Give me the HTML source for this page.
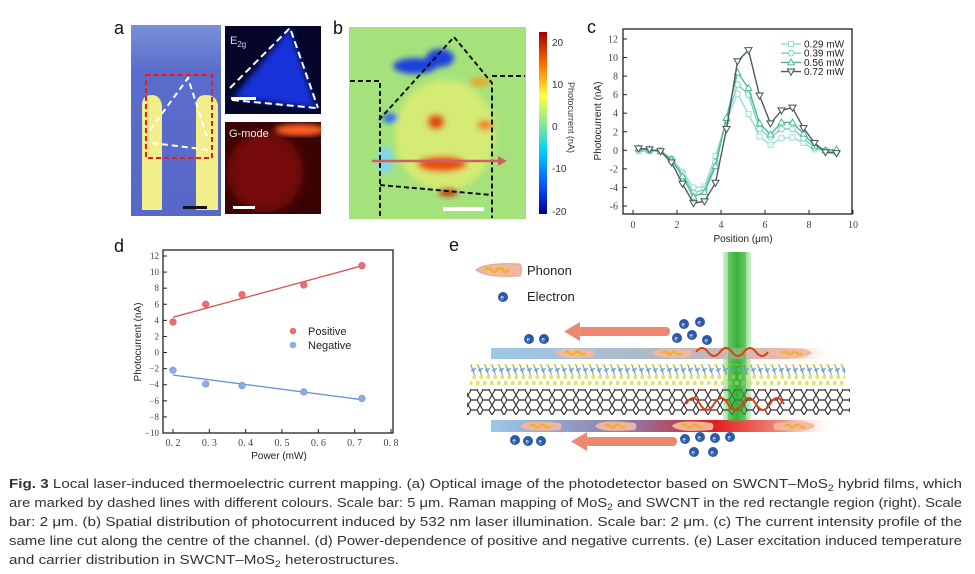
<!DOCTYPE html>
<html><head><meta charset="utf-8">
<style>
html,body{margin:0;padding:0;background:#fff;}
svg{display:block;font-family:"Liberation Sans",sans-serif;}
</style></head>
<body>
<svg id="fig" width="975" height="574" viewBox="0 0 975 574" xmlns="http://www.w3.org/2000/svg">
<defs>
  <filter id="blur3"><feGaussianBlur stdDeviation="3"/></filter>
  <filter id="blur5"><feGaussianBlur stdDeviation="5"/></filter>
  <clipPath id="clipE2g"><rect x="225" y="26" width="96" height="88"/></clipPath>
  <clipPath id="clipG"><rect x="225" y="122" width="96" height="92"/></clipPath>
  <clipPath id="clipB"><rect x="349" y="27" width="177" height="192"/></clipPath>
  <linearGradient id="cbar" x1="0" y1="1" x2="0" y2="0">
    <stop offset="0" stop-color="#00008f"/><stop offset="0.15" stop-color="#0050ff"/>
    <stop offset="0.35" stop-color="#00d0ff"/><stop offset="0.5" stop-color="#90e890"/>
    <stop offset="0.65" stop-color="#ffff40"/><stop offset="0.82" stop-color="#ff7000"/>
    <stop offset="1" stop-color="#a00000"/>
  </linearGradient>
  <linearGradient id="optic" x1="0" y1="0" x2="0" y2="1">
    <stop offset="0" stop-color="#7a90d8"/><stop offset="0.25" stop-color="#5a6ccc"/><stop offset="1" stop-color="#5868c8"/>
  </linearGradient>
  <linearGradient id="topbar" x1="0" x2="1">
    <stop offset="0" stop-color="#9cc8ea"/><stop offset="0.5" stop-color="#b0b8c4"/>
    <stop offset="0.85" stop-color="#e8b8a8"/><stop offset="1" stop-color="#fff" stop-opacity="0"/>
  </linearGradient>
  <linearGradient id="botbar" x1="0" x2="1">
    <stop offset="0" stop-color="#9cc8ea"/><stop offset="0.4" stop-color="#8a7aa8"/>
    <stop offset="0.65" stop-color="#e02020"/><stop offset="0.85" stop-color="#f09080"/>
    <stop offset="1" stop-color="#fff" stop-opacity="0"/>
  </linearGradient>
  <linearGradient id="beam" x1="0" x2="1">
    <stop offset="0" stop-color="#5fcf5f" stop-opacity="0.3"/><stop offset="0.5" stop-color="#2fa82f"/>
    <stop offset="1" stop-color="#5fcf5f" stop-opacity="0.3"/>
  </linearGradient>
  <pattern id="hex" width="12" height="10" patternUnits="userSpaceOnUse">
    <path d="M0 5 L3 0 L9 0 L12 5 L9 10 L3 10 Z" fill="none" stroke="#333" stroke-width="1.2"/>
  </pattern>
  <pattern id="mos2" width="7" height="20" patternUnits="userSpaceOnUse">
    <path d="M1 3 L4 10 L6 17 M4 10 L7 8" stroke="#888" stroke-width="1"/>
    <circle cx="1.5" cy="3" r="2.3" fill="#e0e468"/><circle cx="5.5" cy="17" r="2.3" fill="#e0e468"/>
    <circle cx="4" cy="10" r="1.8" fill="#6ab0e0"/>
  </pattern>
</defs>

<!-- ========== Panel a ========== -->
<g>
  <text x="114" y="34" font-size="18" fill="#111">a</text>
  <g>
    <rect x="131" y="25" width="90" height="191" fill="url(#optic)"/>
    <path d="M142 210 L142 105 Q142 95 152 95 Q160 95 162 105 L162 210 Z" fill="#f2ef8a"/>
    <path d="M196 210 L196 105 Q196 95 206 95 Q216 95 218 105 L218 210 Z" fill="#f2ef8a"/>
    <rect x="146" y="75" width="66" height="83" fill="none" stroke="#e02020" stroke-width="2" stroke-dasharray="5,3"/>
    <path d="M150 130 L188 78 L208 140 M152 143 L210 150" fill="none" stroke="#fff" stroke-width="2" stroke-dasharray="6,4"/>
    <rect x="183" y="206" width="24" height="3" fill="#111"/>
  </g>
  <g>
    <rect x="225" y="26" width="96" height="88" fill="#05062a"/>
    <path d="M233 98 L290 28 L316 108 Z" fill="#1630d8" filter="url(#blur3)" clip-path="url(#clipE2g)"/>
    <path d="M230 88 L290 28 L318 108 M232 100 L316 108" fill="none" stroke="#fff" stroke-width="2" stroke-dasharray="7,4"/>
    <text x="230" y="44" font-size="11" fill="#ddd">E<tspan font-size="8" dy="3">2g</tspan></text>
    <rect x="231" y="97" width="25" height="3" fill="#fff"/>
  </g>
  <g>
    <rect x="225" y="122" width="96" height="92" fill="#3a0404"/>
    <g clip-path="url(#clipG)">
      <ellipse cx="265" cy="172" rx="38" ry="40" fill="#901008" opacity="0.7" filter="url(#blur5)"/>
      <ellipse cx="300" cy="130" rx="25" ry="6" fill="#ff6020" filter="url(#blur3)"/>
    </g>
    <text x="229" y="137" font-size="11" fill="#eee">G-mode</text>
    <rect x="233" y="206" width="22" height="3" fill="#fff"/>
  </g>
</g>

<!-- ========== Panel b ========== -->
<g>
  <text x="333" y="34" font-size="18" fill="#111">b</text>
  <g>
    <rect x="349" y="27" width="177" height="192" fill="#a6e27c"/>
    <g filter="url(#blur3)" clip-path="url(#clipB)">
      <ellipse cx="445" cy="135" rx="50" ry="55" fill="#e4ee70" opacity="0.75"/>
      <ellipse cx="415" cy="66" rx="22" ry="8" fill="#1a40e0"/>
      <ellipse cx="440" cy="58" rx="14" ry="9" fill="#1a40e0"/>
      <ellipse cx="390" cy="118" rx="8" ry="5" fill="#3070e8"/>
      <ellipse cx="385" cy="160" rx="8" ry="14" fill="#80d8e8"/>
      <ellipse cx="436" cy="122" rx="9" ry="8" fill="#e05010"/>
      <ellipse cx="442" cy="164" rx="25" ry="8" fill="#e85010"/>
      <ellipse cx="448" cy="192" rx="10" ry="4" fill="#c02000"/>
      <ellipse cx="485" cy="125" rx="8" ry="5" fill="#f08020"/>
      <ellipse cx="480" cy="82" rx="10" ry="4" fill="#f0a020"/>
    </g>
    <path d="M350 81 L380 81 L380 218 M379 120 L454 37 L492 83 L492 218 M492 76 L525 76 M380 185 L492 195" fill="none" stroke="#111" stroke-width="2" stroke-dasharray="5,3"/>
    <line x1="372" y1="161" x2="500" y2="161" stroke="#d06060" stroke-width="2.5"/>
    <polygon points="498,156 507,161 498,166" fill="#d06060"/>
    <rect x="443" y="207" width="41" height="4" fill="#fff"/>
  </g>
  <g>
    <rect x="539" y="32" width="8" height="182" fill="url(#cbar)"/>
    <g font-size="10" fill="#333">
      <text x="552" y="46">20</text><text x="552" y="88">10</text>
      <text x="552" y="130">0</text><text x="552" y="172">-10</text><text x="552" y="215">-20</text>
    </g>
    <text transform="translate(568,82) rotate(90)" font-size="9" fill="#333">Photocurrent (nA)</text>
  </g>
</g>

<!-- ========== Panel c ========== -->
<g id="panelC">
  <text x="587" y="33" font-size="18" fill="#111">c</text>
</g>

<!-- ========== Panel d ========== -->
<g id="panelD">
  <text x="114" y="252" font-size="18" fill="#111">d</text>
</g>

<!-- ========== Panel e ========== -->
<g>
  <text x="449" y="251" font-size="18" fill="#111">e</text>
  <g>
    <path d="M476 270 Q486 262 520 264 Q523 270 520 276 Q486 278 476 270 Z" fill="#f0b8a0" stroke="#e6a088"/>
    <path d="M485 270 q3 -4 6 0 t6 0 t6 0 t6 0" fill="none" stroke="#f0b020" stroke-width="2.5"/>
    <text x="527" y="275" font-size="13" fill="#222">Phonon</text>
  </g>
  <g>
    <circle cx="503" cy="297" r="5" fill="#2a5aa8"/><text x="500.5" y="299.5" font-size="6" fill="#fff">e</text>
    <text x="527" y="301" font-size="13" fill="#222">Electron</text>
  </g>
  <rect x="723" y="252" width="28" height="170" fill="url(#beam)"/>
  <rect x="491" y="348" width="345" height="11" fill="url(#topbar)"/>
  <rect x="470" y="364" width="375" height="21" fill="url(#mos2)"/>
  <rect x="467" y="389" width="383" height="26" fill="url(#hex)"/>
  <rect x="491" y="420" width="345" height="12" fill="url(#botbar)"/>
  <rect x="728" y="252" width="18" height="170" fill="#3cb83c" opacity="0.55"/>
  <g fill="#f0b8a0" opacity="0.95">
    <path d="M555 353 Q560 346 593 350 Q596 353 593 357 Q560 360 555 353 Z"/>
    <path d="M652 353 Q657 346 690 350 Q693 353 690 357 Q657 360 652 353 Z"/>
    <path d="M812 353 Q807 346 774 350 Q771 353 774 357 Q807 360 812 353 Z"/>
    <path d="M520 426 Q525 419 560 423 Q563 426 560 430 Q525 433 520 426 Z"/>
    <path d="M595 426 Q600 419 635 423 Q638 426 635 430 Q600 433 595 426 Z"/>
    <path d="M672 426 Q677 419 712 423 Q715 426 712 430 Q677 433 672 426 Z"/>
    <path d="M815 426 Q810 419 775 423 Q772 426 775 430 Q810 433 815 426 Z"/>
  </g>
  <g fill="none" stroke="#f0b020" stroke-width="2">
    <path d="M565 353 q2.5 -3 5 0 t5 0 t5 0 t5 0"/><path d="M662 353 q2.5 -3 5 0 t5 0 t5 0 t5 0"/>
    <path d="M782 353 q2.5 -3 5 0 t5 0 t5 0 t5 0"/><path d="M530 426 q2.5 -3 5 0 t5 0 t5 0 t5 0"/>
    <path d="M605 426 q2.5 -3 5 0 t5 0 t5 0 t5 0"/><path d="M682 426 q2.5 -3 5 0 t5 0 t5 0 t5 0"/>
    <path d="M785 426 q2.5 -3 5 0 t5 0 t5 0 t5 0"/>
  </g>
  <path d="M696 352 q6 -8 12 0 t12 0 t12 0 t12 0 t12 0 t12 0" fill="none" stroke="#e04010" stroke-width="2"/>
  <path d="M686 404 q7 -12 14 0 t14 0 t14 0 t14 0 t14 0 t14 0 t14 0" fill="none" stroke="#e04010" stroke-width="2"/>
  <g fill="#ec8870">
    <rect x="578" y="327" width="92" height="9" rx="4"/><polygon points="580,322 564,331.5 580,341"/>
    <rect x="585" y="437" width="92" height="9" rx="4"/><polygon points="587,432 571,441.5 587,451"/>
  </g>
  <g id="electrons"></g>
</g>

<!-- ========== Caption ========== -->
<g font-size="13" fill="#333">
  <text x="9" y="488" textLength="953" lengthAdjust="spacingAndGlyphs"><tspan font-weight="bold">Fig. 3</tspan>   Local laser-induced thermoelectric current mapping. (a) Optical image of the photodetector based on SWCNT–MoS<tspan font-size="9" dy="3">2</tspan><tspan dy="-3"> hybrid films, which</tspan></text>
  <text x="9" y="507" textLength="953" lengthAdjust="spacingAndGlyphs">are marked by dashed lines with different colours. Scale bar: 5 μm. Raman mapping of MoS<tspan font-size="9" dy="3">2</tspan><tspan dy="-3"> and SWCNT in the red rectangle region (right). Scale</tspan></text>
  <text x="9" y="526" textLength="953" lengthAdjust="spacingAndGlyphs">bar: 2 μm. (b) Spatial distribution of photocurrent induced by 532 nm laser illumination. Scale bar: 2 μm. (c) The current intensity profile of the</text>
  <text x="9" y="545" textLength="953" lengthAdjust="spacingAndGlyphs">same line cut along the centre of the channel. (d) Power-dependence of positive and negative currents. (e) Laser excitation induced temperature</text>
  <text x="9" y="564" textLength="390" lengthAdjust="spacingAndGlyphs">and carrier distribution in SWCNT–MoS<tspan font-size="9" dy="3">2</tspan><tspan dy="-3"> heterostructures.</tspan></text>
</g>
</svg>

<script>
// ---------- Panel C data ----------
const cPositions = [0.25,0.75,1.25,1.75,2.25,2.75,3.25,3.75,4.25,4.75,5.25,5.75,6.25,6.75,7.25,7.75,8.25,8.75,9.25];
const cSeriesNames = ["0.29 mW","0.39 mW","0.56 mW","0.72 mW"];
const cVals029 = [-0.1,-0.1,0,-0.9,-2.3,-4.0,-3.9,-0.6,3.2,6.1,3.9,1.5,0.6,1.3,1.4,0.8,0.1,0,-0.2];
const cVals039 = [0.1,0,-0.1,-1.0,-2.5,-4.6,-4.2,-1.3,3.3,7.1,6.0,2.3,1.4,2.3,2.3,1.3,0.3,0,-0.1];
const cVals056 = [0.2,0.1,-0.1,-1.0,-2.8,-5.0,-4.5,-1.7,3.5,8.4,6.7,2.9,1.7,3.0,3.0,1.8,0.5,0,0.1];
const cVals072 = [0.2,0.1,-0.1,-1.3,-3.6,-5.7,-5.5,-3.5,2.3,9.6,10.8,5.9,2.9,4.3,4.6,2.4,0.8,-0.2,-0.3];
const cXTicks = [0,2,4,6,8,10];
const cYTicks = [-6,-4,-2,0,2,4,6,8,10,12];

// ---------- Panel D data ----------
const dPowers = [0.2,0.29,0.39,0.56,0.72];
const dPositive = [3.8,6.0,7.2,8.4,10.8];
const dNegative = [-2.2,-3.9,-4.1,-4.9,-5.7];
const dXTicks = [0.2,0.3,0.4,0.5,0.6,0.7,0.8];
const dYTicks = [-10,-8,-6,-4,-2,0,2,4,6,8,10,12];

const NS = "http://www.w3.org/2000/svg";
function mk(tag, attrs, parent){
  const e = document.createElementNS(NS, tag);
  for (const k in attrs) e.setAttribute(k, attrs[k]);
  parent.appendChild(e); return e;
}

// ===== Panel C =====
(function(){
  const g = document.getElementById('panelC');
  const X = v => 633 + v*(853-633)/10;
  const Y = v => 206 - (v+6)*(206-39)/18;
  const box = mk('rect',{x:623,y:29,width:229,height:185,fill:'none',stroke:'#222','stroke-width':1.3},g);
  
  
  cXTicks.forEach(t=>{
    mk('line',{x1:X(t),y1:214,x2:X(t),y2:210,stroke:'#222'},g);
    const tx = mk('text',{x:X(t),y:228,'font-size':10,'text-anchor':'middle',fill:'#444','font-family':'Liberation Serif, serif'},g);
    tx.textContent = t;
    
    
  });
  cYTicks.forEach(t=>{
    mk('line',{x1:623,y1:Y(t),x2:627,y2:Y(t),stroke:'#222'},g);
    const tx = mk('text',{x:618,y:Y(t)+3.5,'font-size':10,'text-anchor':'end',fill:'#444','font-family':'Liberation Serif, serif'},g);
    tx.textContent = t;
    
    
  });
  const xt = mk('text',{x:743,y:242,'font-size':10,'text-anchor':'middle',fill:'#222'},g);
  xt.textContent = 'Position (μm)';
  
  
  const yt = mk('text',{transform:'translate(601,121) rotate(-90)','font-size':10,'text-anchor':'middle',fill:'#222'},g);
  yt.textContent = 'Photocurrent (nA)';
  
  

  const series = [cVals029,cVals039,cVals056,cVals072];
  const colors = ['#9adcd8','#78d4bc','#4cb898','#4e5c5e'];
  const markers = ['sq','ci','tu','td'];
  function marker(type,x,y,col,parent){
    let m;
    if(type==='sq') m = mk('rect',{x:x-2.5,y:y-2.5,width:5,height:5,fill:'#fff',stroke:col,'stroke-width':1},parent);
    else if(type==='ci') m = mk('circle',{cx:x,cy:y,r:2.8,fill:'#fff',stroke:col,'stroke-width':1},parent);
    else if(type==='tu') m = mk('polygon',{points:`${x},${y-3.5} ${x-3.3},${y+2.5} ${x+3.3},${y+2.5}`,fill:'#fff',stroke:col,'stroke-width':1},parent);
    else m = mk('polygon',{points:`${x},${y+3.5} ${x-3.5},${y-2.5} ${x+3.5},${y-2.5}`,fill:'#fff',stroke:col,'stroke-width':1.1},parent);
    return m;
  }
  series.forEach((vals,si)=>{
    const sg = mk('g',{},g);
    
    
    const pts = vals.map((v,i)=>X(cPositions[i])+','+Y(v)).join(' ');
    mk('polyline',{points:pts,fill:'none',stroke:colors[si],'stroke-width':1.4},sg);
    vals.forEach((v,i)=>{
      const m = marker(markers[si],X(cPositions[i]),Y(v),colors[si],sg);
      
      
    });
    const ly = 44 + si*9.2;
    const lg = mk('g',{},g);
    
    
    mk('line',{x1:781,y1:ly,x2:801,y2:ly,stroke:colors[si],'stroke-width':1.4},lg);
    marker(markers[si],791,ly,colors[si],lg);
    const lt = mk('text',{x:804,y:ly+3.5,'font-size':10,fill:'#222'},lg);
    lt.textContent = cSeriesNames[si];
  });
})();

// ===== Panel D =====
(function(){
  const g = document.getElementById('panelD');
  const X = v => 173 + (v-0.2)*(391-173)/0.6;
  const Y = v => 433 - (v+10)*(433-256)/22;
  const box = mk('rect',{x:163,y:250,width:230,height:183,fill:'none',stroke:'#222','stroke-width':1.3},g);
  
  
  dXTicks.forEach(t=>{
    mk('line',{x1:X(t),y1:433,x2:X(t),y2:429,stroke:'#222'},g);
    const tx = mk('text',{x:X(t),y:446,'font-size':10,'text-anchor':'middle',fill:'#444','font-family':'Liberation Serif, serif'},g);
    tx.textContent = t.toFixed(1).replace('.', '. ');
    
    
  });
  dYTicks.forEach(t=>{
    mk('line',{x1:163,y1:Y(t),x2:167,y2:Y(t),stroke:'#222'},g);
    const tx = mk('text',{x:159,y:Y(t)+3,'font-size':9,'text-anchor':'end',fill:'#444','font-family':'Liberation Serif, serif'},g);
    tx.textContent = t < 0 ? '−'+(-t) : t;
    
    
  });
  const xt = mk('text',{x:279,y:459,'font-size':10,'text-anchor':'middle',fill:'#222'},g);
  xt.textContent = 'Power (mW)';
  
  
  const yt = mk('text',{transform:'translate(141,342) rotate(-90)','font-size':10,'text-anchor':'middle',fill:'#222'},g);
  yt.textContent = 'Photocurrent (nA)';
  
  

  function fit(xs,ys){
    const n=xs.length, mx=xs.reduce((a,b)=>a+b)/n, my=ys.reduce((a,b)=>a+b)/n;
    let sxy=0,sxx=0; xs.forEach((x,i)=>{sxy+=(x-mx)*(ys[i]-my); sxx+=(x-mx)*(x-mx);});
    const b=sxy/sxx; return [b, my-b*mx];
  }
  [[dPositive,'#d45a5a','#e87070','positive'],[dNegative,'#6c94d8','#8cacec','negative']].forEach(([vals,lc,pc,nm])=>{
    const sg = mk('g',{},g);
    
    
    const [b,a] = fit(dPowers,vals);
    const x0=dPowers[0], x1=dPowers[dPowers.length-1];
    const ln = mk('line',{x1:X(x0),y1:Y(a+b*x0),x2:X(x1),y2:Y(a+b*x1),stroke:lc,'stroke-width':1.4},sg);
    
    
    vals.forEach((v,i)=>{
      const c = mk('circle',{cx:X(dPowers[i]),cy:Y(v),r:3.3,fill:pc,stroke:lc,'stroke-width':0.6},sg);
      
      
    });
  });
  [['Positive','#e87070',335],['Negative','#8cacec',349]].forEach(([lab,col,y])=>{
    const lg = mk('g',{},g);
    
    
    mk('circle',{cx:293,cy:y-4,r:3.3,fill:col},lg);
    const t = mk('text',{x:308,y:y,'font-size':11,fill:'#222'},lg);
    t.textContent = lab;
  });
})();

// ===== Electrons in panel e =====
(function(){
  const g = document.getElementById('electrons');
  const pos = [[529,339],[544,339],[684,324],[700,322],[677,338],[692,335],[707,340],
               [515,440],[528,441],[541,441],[685,439],[700,437],[715,438],[730,437],[694,452],[713,452]];
  pos.forEach(p=>{
    const c = mk('circle',{cx:p[0],cy:p[1],r:5,fill:'#2a5aa8'},g);
    
    
    const t = mk('text',{x:p[0]-2.5,y:p[1]+2.5,'font-size':6,fill:'#fff'},g);
    t.textContent='e';
  });
})();
</script>
</body></html>
